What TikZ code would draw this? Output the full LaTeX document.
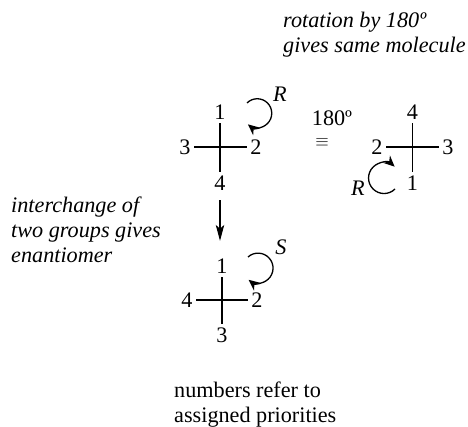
\documentclass[tikz,border=0pt]{standalone}
\usepackage{fontspec}
\setmainfont{Liberation Serif}
\usetikzlibrary{arrows.meta}

\tikzset{
    grp/.style = {inner sep = 3.6pt, font = \fontsize{22.2}{25}\selectfont},
    cfg/.style = {inner sep = 0pt, font = \fontsize{22.2}{25}\selectfont\itshape},
    note/.style = {inner sep = 0pt, align = left, anchor = north west, font = \fontsize{22.2}{25}\selectfont},
    slant/.style = {note, font = \fontsize{22.2}{25}\selectfont\itshape},
    bond/.style = {line width = 1.3pt},
    turn/.style = {line width = 1.3pt, -{Stealth[length=11pt, width=10pt]}}
}

\begin{document}
\begin{tikzpicture}[x = 1pt, y = 1pt]
\useasboundingbox (0,0) rectangle (468,427);
\fill[white] (0,0) rectangle (468,427);

\node[grp] (topone) at (220, 315) {1};
\node[grp] (toptwo) at (256, 280) {2};
\node[grp] (topthree) at (185, 280) {3};
\node[grp] (topfour) at (220, 244) {4};
\draw[bond] (topone) -- (topfour);
\draw[bond] (topthree) -- (toptwo);

\node[grp] (rotfour) at (412.5, 315) {4};
\node[grp] (rottwo) at (377, 280) {2};
\node[grp] (rotthree) at (448, 280) {3};
\node[grp] (rotone) at (412.5, 244) {1};
\draw[bond] (rotfour) -- (rotone);
\draw[bond] (rottwo) -- (rotthree);

\node[grp] (lowone) at (222, 161) {1};
\node[grp] (lowtwo) at (257, 127) {2};
\node[grp] (lowfour) at (187, 127) {4};
\node[grp] (lowthree) at (222, 92) {3};
\draw[bond] (lowone) -- (lowthree);
\draw[bond] (lowfour) -- (lowtwo);

\draw[line width = 1.3pt, shorten < = 6pt, shorten > = 14pt, -{Stealth[length=16pt, width=8.5pt, inset=4pt]}] (topfour.south) -- (topfour.south |- lowone.north);

\draw[turn] (247, 324) arc (135:-130:14.5);
\draw[turn] (395, 238) arc (-45:-313:15.5);
\draw[turn] (248, 170) arc (132:-129:15);

\node[cfg] (cfgtop) at (280, 333) {R};
\node[cfg] (cfgrot) at (358, 239) {R};
\node[cfg] (cfglow) at (281, 180) {S};

\node[inner sep = 0pt, font = \fontsize{22.2}{25}\selectfont] (angle) at (332, 309) {180º};
\node[inner sep = 0pt, font = \fontsize{16}{18}\selectfont] (same) at (322, 284) {$\equiv$};

\node[slant] (rotnote) at (283, 415.2) {rotation by 180º\\gives same molecule};
\node[slant] (swapnote) at (11, 230.2) {interchange of\\two groups gives\\enantiomer};
\node[note] (numnote) at (174, 45.5) {numbers refer to\\assigned priorities};
\end{tikzpicture}
\end{document}
